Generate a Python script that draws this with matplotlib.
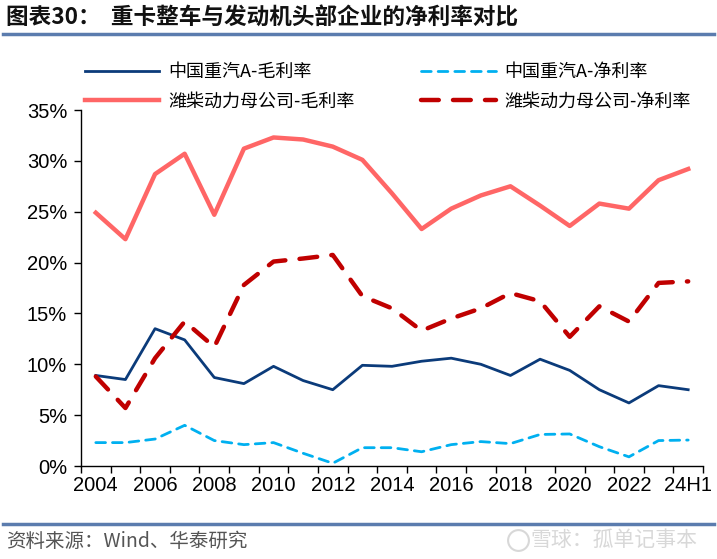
import matplotlib
matplotlib.use("Agg")
import matplotlib.pyplot as plt
from matplotlib.lines import Line2D
import numpy as np

plt.rcParams['font.family'] = ['Liberation Sans', 'Noto Sans CJK SC', 'DejaVu Sans']

categories = ['2004', '2005', '2006', '2007', '2008', '2009', '2010', '2011', '2012', '2013',
              '2014', '2015', '2016', '2017', '2018', '2019', '2020', '2021', '2022', '2023', '24H1']
tick_labels = ['2004', '', '2006', '', '2008', '', '2010', '', '2012', '', '2014', '', '2016', '',
               '2018', '', '2020', '', '2022', '', '24H1']

sinotruk_gross = [8.9, 8.5, 13.5, 12.4, 8.7, 8.1, 9.8, 8.4, 7.5, 9.9,
                  9.8, 10.3, 10.6, 10.0, 8.9, 10.5, 9.4, 7.5, 6.2, 7.9, 7.5]
sinotruk_net = [2.3, 2.3, 2.65, 4.0, 2.5, 2.1, 2.3, 1.25, 0.27, 1.8,
                1.8, 1.4, 2.1, 2.4, 2.2, 3.1, 3.15, 1.9, 0.9, 2.5, 2.55]
weichai_gross = [24.9, 22.3, 28.7, 30.7, 24.7, 31.2, 32.3, 32.1, 31.4, 30.1,
                 26.8, 23.3, 25.3, 26.6, 27.5, 25.6, 23.6, 25.8, 25.3, 28.1, 29.2]
weichai_net = [8.8, 5.7, 10.6, 14.2, 11.7, 17.8, 20.1, 20.4, 20.75, 16.7,
               15.5, 13.3, 14.5, 15.5, 17.0, 16.2, 12.7, 15.7, 14.2, 18.0, 18.15]

labels = ['中国重汽A-毛利率', '中国重汽A-净利率', '潍柴动力母公司-毛利率', '潍柴动力母公司-净利率']

W, H = 717, 559
fig = plt.figure(figsize=(W / 100, H / 100), dpi=100)
ax = fig.add_axes([81 / W, (H - 466) / H, (703 - 81) / W, (466 - 110) / H])

x = np.arange(len(categories))
l1, = ax.plot(x, sinotruk_gross, color='#0B3B7A', lw=2.0, solid_joinstyle='round')
l2, = ax.plot(x, sinotruk_net, color='#00B0F0', lw=2.0, dashes=(3.5, 2.5), dash_capstyle='round')
l3, = ax.plot(x, weichai_gross, color='#FF6666', lw=3.2, solid_joinstyle='round')
l4, = ax.plot(x, weichai_net, color='#C00000', lw=3.2, dashes=(4, 3.2), dash_capstyle='round')

ax.set_xlim(-0.5, len(categories) - 0.5)
ax.set_ylim(0, 35)
ax.set_yticks(np.arange(0, 36, 5))
ax.set_yticklabels([f'{v}%' for v in range(0, 36, 5)], fontsize=14.5)
ax.set_xticks(x)
ax.set_xticklabels(tick_labels, fontsize=14.5)
ax.set_xticks(np.arange(-0.5, len(categories), 1), minor=True)
ax.tick_params(axis='x', which='major', length=0, pad=7)
ax.tick_params(axis='x', which='minor', length=5, width=1, direction='out')
ax.tick_params(axis='y', length=5, width=1, direction='out', pad=5)
for s in ['top', 'right']:
    ax.spines[s].set_visible(False)
for s in ['left', 'bottom']:
    ax.spines[s].set_linewidth(1.0)

cjk = ['Noto Sans CJK SC', 'DejaVu Sans']
leg = fig.legend([l1, l3, l2, l4], [labels[0], labels[2], labels[1], labels[3]],
                 ncol=2, loc='upper left', bbox_to_anchor=(69 / W, 1 - 47 / H),
                 frameon=False, handlelength=4.1, columnspacing=3.7, labelspacing=0.62,
                 handletextpad=0.5, prop={'family': cjk, 'size': 13})

# Title
fig.text(6 / W, 1 - 17 / H, '图表30：  重卡整车与发动机头部企业的净利率对比', family=cjk,
         fontsize=16.3, fontweight='bold', va='center', ha='left', color='#111111')
fig.add_artist(Line2D([3 / W, 714 / W], [1 - 33.5 / H, 1 - 33.5 / H], color='#5B7CAE', lw=2.5))
fig.add_artist(Line2D([3 / W, 714 / W], [1 - 524 / H, 1 - 524 / H], color='#5B7CAE', lw=2.5))
fig.text(6 / W, 1 - 541 / H, '资料来源：Wind、华泰研究', family=cjk, fontsize=14,
         va='center', ha='left', color='#555555')
fig.text(697 / W, 1 - 540 / H, '雪球：孤单记事本', family=cjk, fontsize=15,
         va='center', ha='right', color='#D8D8D8')
fig.add_artist(Line2D([518 / W], [1 - 540 / H], marker='o', markersize=15, mfc='none',
                      mec='#D8D8D8', mew=1.5, transform=fig.transFigure))

fig.savefig('out.png', dpi=100)
